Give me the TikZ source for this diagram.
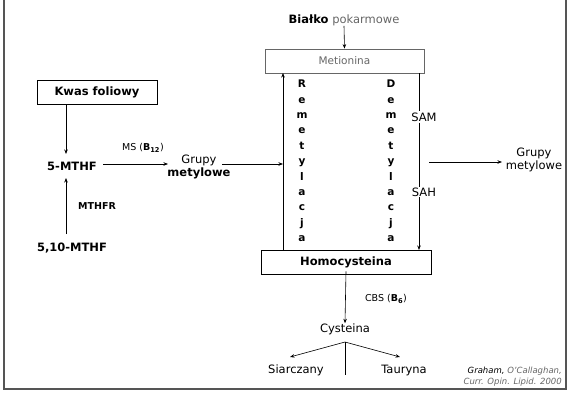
\documentclass[tikz,border=0pt]{standalone}
\usepackage{fontspec}
\setmainfont{DejaVu Sans}
\usetikzlibrary{arrows.meta}
\definecolor{frameg}{HTML}{555555}
\definecolor{softg}{HTML}{666666}
\begin{document}
\begin{tikzpicture}[x=1pt,y=-1pt,
  txt/.style={inner sep=0pt,font=\fontsize{11.5}{13}\selectfont},
  btxt/.style={inner sep=0pt,font=\fontsize{11.5}{13}\selectfont\bfseries},
  lbl/.style={inner sep=0pt,font=\fontsize{9.5}{11}\selectfont},
  boxb/.style={draw,line width=0.9pt,minimum height=24pt,inner sep=0pt},
  vert/.style={inner sep=0pt,align=center,font=\fontsize{10.5}{15.4}\selectfont\bfseries},
  arr/.style={-{Stealth[length=4.5pt,width=3.5pt]},line width=0.6pt},
  ln/.style={line width=0.6pt},
  cite/.style={inner sep=0pt,anchor=east,font=\fontsize{8.5}{10}\selectfont\itshape}]
\useasboundingbox (0,0) rectangle (568,392);
% frame
\draw[frameg,line width=2pt] (3.5,0) -- (3.5,389) -- (565.5,389) -- (565.5,0);

% top
\node[txt] (bialko) at (344,20) {\textbf{Białko} \textcolor{softg}{pokarmowe}};
\node[draw=softg,line width=0.8pt,minimum width=159pt,minimum height=24pt,inner sep=0pt,
      text=softg,font=\fontsize{10.5}{12}\selectfont] (met) at (344.5,61) {Metionina};
\draw[arr] (bialko.south) -- (met.north);

% left branch
\node[boxb,btxt,minimum width=120pt] (kwas) at (97,92) {Kwas foliowy};
\node[btxt] (mthf) at (72,166) {5-MTHF};
\node[btxt] (mthf10) at (72,248) {5,10-MTHF};
\node[lbl,font=\fontsize{9.5}{11}\selectfont\bfseries] (mthfr) at (97,206) {MTHFR};
\coordinate (kwasdn) at (66,104);
\coordinate (mthfup) at (66,154);
\coordinate (mthfdn) at (66,178);
\coordinate (mthf10up) at (66,234);
\draw[arr] (kwas.south -| kwasdn) -- (mthfup);
\draw[arr] (mthf10up) -- (mthfdn);
\node[txt,align=center] (grupyL) at (199,167) {Grupy\\\textbf{metylowe}};
\coordinate (msa) at (103,164);
\coordinate (msb) at (168,164);
\draw[arr] (msa) -- (msb);
\node[lbl] (ms) at (143,148) {MS (\textbf{B\textsubscript{12}})};

% homocysteina
\node[boxb,btxt,minimum width=170pt] (homo) at (346,262) {Homocysteina};

% remethylation line
\coordinate (remTop) at (283,73);
\coordinate (remBot) at (283,250);
\draw[arr] (remBot) -- (remTop);
\coordinate (grLend) at (283,164);
\coordinate (grLstart) at (222,164);
\draw[arr] (grLstart) -- (grLend);
\node[vert] (rem) at (302,161) {R\\e\\m\\e\\t\\y\\l\\a\\c\\j\\a};
\node[vert] (dem) at (391,161) {D\\e\\m\\e\\t\\y\\l\\a\\c\\j\\a};

% demethylation line
\node[txt,fill=white,inner sep=1pt] (sam) at (424,117) {SAM};
\coordinate (demTop) at (419,73);
\coordinate (demBot) at (419,250);
\draw[ln] (demTop) -- (sam.north -| demTop);
\draw[arr] (sam.south -| demTop) -- (demBot);
\node[txt,fill=white,inner sep=1pt] (sah) at (424,192) {SAH};
\coordinate (grRstart) at (429,162);
\coordinate (grRend) at (502,162);
\node[txt,align=center] (grupyR) at (534,160) {Grupy\\metylowe};
\draw[arr] (grRstart) -- (grRend);

% bottom
\node[txt] (cys) at (345,329) {Cysteina};
\draw[arr] ([yshift=3pt]homo.south) -- (cys.north);
\node[lbl] (cbs) at (386,299) {CBS (\textbf{B\textsubscript{6}})};
\coordinate (br) at (345,342);
\coordinate (siarTip) at (290,357);
\coordinate (taurTip) at (400,357);
\coordinate (vbot) at (345,375);
\draw[arr] (br) -- (siarTip);
\draw[arr] (br) -- (taurTip);
\draw[ln] (br) -- (vbot);
\node[txt] (siar) at (296,370) {Siarczany};
\node[txt] (taur) at (404,370) {Tauryna};

% citation
\node[cite] (cit1) at (562,371) {Graham, \textcolor{softg}{O’Callaghan,}};
\node[cite,text=softg] (cit2) at (562,382) {Curr. Opin. Lipid. 2000};
\end{tikzpicture}
\end{document}
